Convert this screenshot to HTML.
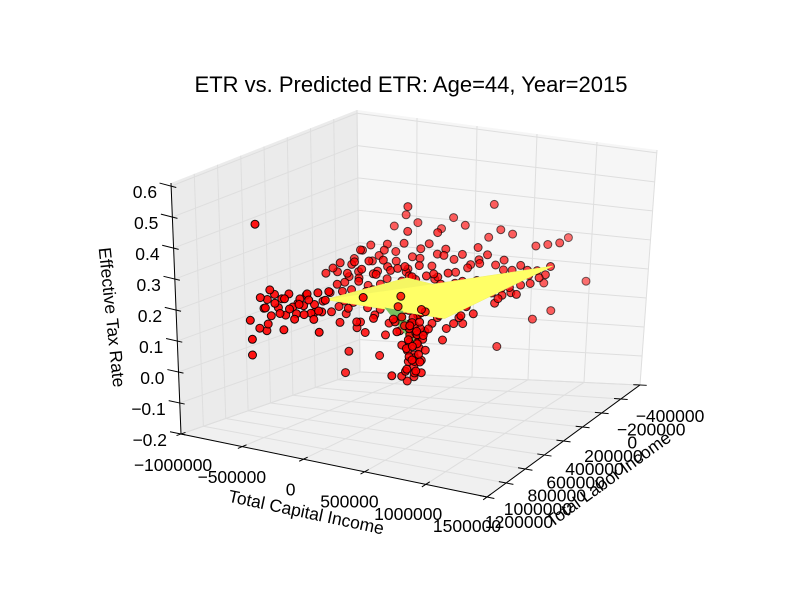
<!DOCTYPE html>
<html><head><meta charset="utf-8">
<style>
html,body{margin:0;padding:0;background:#fff;}
svg{display:block;font-family:"Liberation Sans",sans-serif;}
</style></head>
<body>
<svg id="chart" width="800" height="600" viewBox="0 0 800 600" xmlns="http://www.w3.org/2000/svg">
<rect width="800" height="600" fill="#fff"/>
<text x="411" y="92" font-size="22" text-anchor="middle" fill="#000">ETR vs. Predicted ETR: Age=44, Year=2015</text>
<g id="panes"></g>
<g id="grid"></g>
<g id="axes"></g>
<g id="backPts"></g>
<g id="surf"></g>
<g id="frontPts"></g>
<text x="0" y="0" font-size="17.5" text-anchor="middle" transform="translate(305,518) rotate(12)">Total Capital Income</text>
<text x="0" y="0" font-size="17.5" text-anchor="middle" transform="translate(612,484) rotate(-36)">Total Labor Income</text>
<text x="0" y="0" font-size="17.5" text-anchor="middle" transform="translate(106,318) rotate(84)">Effective Tax Rate</text>
</svg>
<script>
// ---- axis ticks ----
const capTicks = [-1000, -500, 0, 500, 1000, 1500];
const capTickLabels = ["\u22121000000", "\u2212500000", "0", "500000", "1000000", "1500000"];
const labTicks = [-400, -200, 0, 200, 400, 600, 800, 1000, 1200];
const labTickLabels = ["\u2212400000", "\u2212200000", "0", "200000", "400000", "600000", "800000", "1000000", "1200000"];
const etrTicks = [-0.2, -0.1, 0.0, 0.1, 0.2, 0.3, 0.4, 0.5, 0.6];
const etrTickLabels = ["\u22120.2", "\u22120.1", "0.0", "0.1", "0.2", "0.3", "0.4", "0.5", "0.6"];

// ---- observed data, grouped (capital income $000, labor income $000, ETR) ----
const wingACap = [-920,-890,-860,-830,-800,-770,-740,-710,-680,-650,-620,-590,-560,-530,-500,-470,-440,-410,-380,-900];
const wingALab = [520,520,520,520,520,520,520,520,520,520,520,520,520,520,520,520,520,520,520,520];
const wingAEtr = [.12,.15,.1,.17,.13,.16,.11,.18,.14,.12,.17,.15,.19,.13,.16,.2,.14,.18,.21,.05];

const wingBCap = [-910,-870,-830,-790,-750,-710,-670,-630,-590,-550,-510,-470,-430,-850,-720];
const wingBLab = [560,560,560,560,560,560,560,560,560,560,560,560,560,560,560];
const wingBEtr = [.16,.13,.19,.15,.12,.17,.14,.11,.16,.13,.18,.12,.15,.08,.07];

const bandACap = [-700,-640,-580,-520,-460,-400,-340,-280,-220,-160,-100,-40,20,80,140,200,260,320,380,440,500,560,620,680,740];
const bandALab = [200,200,200,200,200,200,200,200,200,200,200,200,200,200,200,200,200,200,200,200,200,200,200,200,200];
const bandAEtr = [.2,.22,.24,.21,.25,.23,.26,.22,.27,.24,.25,.26,.23,.27,.24,.25,.22,.26,.23,.24,.21,.25,.22,.23,.2];

const bandBCap = [-650,-580,-510,-440,-370,-300,-230,-160,-90,-20,50,120,190,260,330,400,470,540,610,680,750,820,890,960,1000];
const bandBLab = [0,0,0,0,0,0,0,0,0,0,0,0,0,0,0,0,0,0,0,0,0,0,0,0,0];
const bandBEtr = [.22,.25,.27,.24,.28,.26,.29,.25,.28,.3,.27,.29,.26,.28,.25,.27,.29,.26,.28,.25,.27,.24,.26,.25,.28];

const bandCCap = [-500,-440,-380,-320,-260,-200,-140,-80,-20,40,100,160,220,280,340,400,460,520,-470,-350,-230,-110,10,130,250,370];
const bandCLab = [300,300,300,300,300,300,300,300,300,300,300,300,300,300,300,300,300,300,300,300,300,300,300,300,300,300];
const bandCEtr = [.12,.1,.14,.08,.13,.11,.15,.09,.12,.14,.1,.13,.08,.11,.14,.1,.12,.15,.17,.06,.16,.05,.07,.03,.09,.06];

const bandDCap = [-600,-520,-440,-360,-280,-200,-120,-40,40,120,200,280,360,440,520,600,680,760,840,920];
const bandDLab = [100,100,100,100,100,100,100,100,100,100,100,100,100,100,100,100,100,100,100,100];
const bandDEtr = [.18,.2,.16,.21,.19,.17,.22,.2,.18,.21,.19,.16,.2,.18,.22,.19,.21,.2,.23,.24];

const bandECap = [-750,-680,-610,-540,-470,-400,-330,-260,-190,-120];
const bandELab = [400,400,400,400,400,400,400,400,400,400];
const bandEEtr = [.13,.16,.11,.15,.12,.09,.14,.1,.07,.12];

const bandFCap = [-650,-590,-530,-470,-410,-350,-290,-230,-170,-110,-50,10,70,130,190,250,310,370,430,490,550,610,670,730,790,850];
const bandFLab = [150,150,150,150,150,150,150,150,150,150,150,150,150,150,150,150,150,150,150,150,150,150,150,150,150,150];
const bandFEtr = [.2,.17,.23,.19,.15,.21,.18,.24,.16,.2,.22,.17,.14,.19,.23,.16,.2,.18,.15,.21,.19,.22,.17,.2,.23,.21];

const bandGCap = [-620,-560,-500,-440,-380,-320,-260,-200,-140,-80,-20,40,100,160,220,280,340,400,460,520,580];
const bandGLab = [250,250,250,250,250,250,250,250,250,250,250,250,250,250,250,250,250,250,250,250,250];
const bandGEtr = [.15,.18,.13,.17,.2,.14,.18,.12,.16,.19,.15,.13,.17,.2,.14,.12,.18,.16,.13,.17,.15];

const bandHCap = [-550,-450,-350,-250,-150,-50,50,150,250,350,450,550,650,750,850,950];
const bandHLab = [50,50,50,50,50,50,50,50,50,50,50,50,50,50,50,50];
const bandHEtr = [.26,.23,.27,.24,.22,.26,.24,.28,.23,.25,.27,.22,.26,.24,.27,.25];

const backCap = [-500,-300,-100,100,300,500,700,900,-400,0,400,800];
const backLab = [-200,-200,-200,-200,-200,-200,-200,-200,-200,-200,-200,-200];
const backEtr = [.3,.32,.31,.33,.3,.32,.29,.31,.34,.35,.33,.3];

const spikeCapPts = [120,150,100,180,130,160,110,190,140,170,120,200,90,150,180,130,210,100,160,140,220,80,190,60,240,40,260,120,200,90];
const spikeLabPts = [350,320,380,350,300,400,330,360,310,390,350,330,370,300,400,340,360,310,380,330,350,360,300,400,320,350,380,450,450,450];
const spikeEtrPts = [-.08,-.07,-.06,-.05,-.04,-.03,-.02,-.01,0,.01,.02,.03,.04,.05,.06,.07,.08,.09,.1,.11,.12,.13,.14,.12,.15,.16,.17,.1,.05,.14];

const spikeBCap = [60,90,120,150,180,210,240,270,300,70,110,150,190,230,270,80,130,180,230,280,100,160,220,260,140,200,250,120,180,240];
const spikeBLab = [250,280,300,320,340,360,380,400,420,440,260,290,310,330,350,370,390,410,430,450,270,300,330,360,390,420,450,250,350,400];
const spikeBEtr = [.18,.15,.12,.1,.08,.05,.02,0,-.03,-.05,.16,.13,.09,.06,.03,.2,.11,.07,.01,-.02,.14,.04,-.01,.08,-.04,.12,.06,.17,0,.1];

const outCap = [-950,-900,-930,-960,-900,340,-200,-200,50,390,850,780,570,450,780,970,800,-420,-450,-390,-160,-25];
const outLab = [600,650,550,600,600,-200,0,0,0,0,-200,-100,0,200,-200,-400,-400,300,300,600,300,600];
const outEtr = [-.02,.04,.06,.09,.4,.41,.41,.33,.34,.31,.08,.07,-.01,.1,.17,.14,.28,-.02,-.09,.09,-.02,.23];

const ptCap = [].concat(wingACap,wingBCap,bandACap,bandBCap,bandCCap,bandDCap,bandECap,bandFCap,bandGCap,bandHCap,backCap,spikeCapPts,spikeBCap,outCap);
const ptLab = [].concat(wingALab,wingBLab,bandALab,bandBLab,bandCLab,bandDLab,bandELab,bandFLab,bandGLab,bandHLab,backLab,spikeLabPts,spikeBLab,outLab);
const ptEtr = [].concat(wingAEtr,wingBEtr,bandAEtr,bandBEtr,bandCEtr,bandDEtr,bandEEtr,bandFEtr,bandGEtr,bandHEtr,backEtr,spikeEtrPts,spikeBEtr,outEtr);

// predicted surface vertices
const surfCap = [-340, -390, 13, 850, 643];
const surfLab = [600, -200, 0, -200, 600];
const surfEtr = [0.2, 0.14, 0.17, 0.23, 0.21];
const spikeCap = [150, 300, 220];
const spikeLab = [600, 600, 350];
const spikeEtr = [0.21, 0.21, 0.02];

// ---- projection ----
const cMin=-1000,cMax=1500,lMin=-400,lMax=1200,zMin=-0.2,zMax=0.61;
const A=[181,434],B=[487,497],C=[640,385],D=[360,372];
const A2=[171,183],B2=[492,268],C2=[657,150],D2=[357,110];
function bil(P,Q,R,S,u,v){return [P[0]*(1-u)*(1-v)+Q[0]*u*(1-v)+S[0]*(1-u)*v+R[0]*u*v, P[1]*(1-u)*(1-v)+Q[1]*u*(1-v)+S[1]*(1-u)*v+R[1]*u*v];}
function proj(c,l,z){
  const u=(c-cMin)/(cMax-cMin), v=(lMax-l)/(lMax-lMin), w=(z-zMin)/(zMax-zMin);
  const b=bil(A,B,C,D,u,v), t=bil(A2,B2,C2,D2,u,v);
  return [b[0]+(t[0]-b[0])*w, b[1]+(t[1]-b[1])*w];
}
const NS="http://www.w3.org/2000/svg";
function mk(tag,attrs,parent){const e=document.createElementNS(NS,tag);for(const k in attrs)e.setAttribute(k,attrs[k]);parent.appendChild(e);return e;}
function pts(arr){return arr.map(p=>p[0].toFixed(1)+","+p[1].toFixed(1)).join(" ");}

// panes
const panes=document.getElementById('panes');
let e;
e=mk('polygon',{points:pts([proj(cMin,lMax,zMin),proj(cMin,lMin,zMin),proj(cMin,lMin,zMax),proj(cMin,lMax,zMax)]),fill:'#ebebeb'},panes);

e=mk('polygon',{points:pts([proj(cMin,lMin,zMin),proj(cMax,lMin,zMin),proj(cMax,lMin,zMax),proj(cMin,lMin,zMax)]),fill:'#f6f6f6'},panes);

e=mk('polygon',{points:pts([proj(cMin,lMax,zMin),proj(cMax,lMax,zMin),proj(cMax,lMin,zMin),proj(cMin,lMin,zMin)]),fill:'#f0f0f0'},panes);


// gridlines
const grid=document.getElementById('grid');
function gl(p,q,name){const g=mk('line',{x1:p[0],y1:p[1],x2:q[0],y2:q[1],stroke:'#dedede','stroke-width':1},grid);}
capTicks.forEach(c=>{gl(proj(c,lMax,zMin),proj(c,lMin,zMin),'x-grid-floor');gl(proj(c,lMin,zMin),proj(c,lMin,zMax),'x-grid-back');});
labTicks.forEach(l=>{gl(proj(cMin,l,zMin),proj(cMax,l,zMin),'y-grid-floor');gl(proj(cMin,l,zMin),proj(cMin,l,zMax),'y-grid-left');});
etrTicks.forEach(z=>{gl(proj(cMin,lMax,z),proj(cMin,lMin,z),'z-grid-left');gl(proj(cMin,lMin,z),proj(cMax,lMin,z),'z-grid-back');});

// axes
const axes=document.getElementById('axes');
function al(p,q,name){const g=mk('line',{x1:p[0],y1:p[1],x2:q[0],y2:q[1],stroke:'#000','stroke-width':1},axes);}
al(proj(cMin,lMax,zMin),proj(cMax,lMax,zMin),'x-axis-line');
al(proj(cMax,lMax,zMin),proj(cMax,lMin,zMin),'y-axis-line');
al(proj(cMin,lMax,zMin),proj(cMin,lMax,zMax),'z-axis-line');
function tl(x,y,s,anchor,name){const t=mk('text',{x:x,y:y,'font-size':17.5,'text-anchor':anchor,fill:'#000'},axes);t.textContent=s;}
capTicks.forEach((c,i)=>{
  al(proj(c,lMax-40,zMin),proj(c,lMax+40,zMin),'x-tick');
  const p=proj(c,lMax,zMin);const u=(c-cMin)/(cMax-cMin);
  tl(p[0]-8-12*u,p[1]+37-2*u,capTickLabels[i],'middle','x-tick-label');
});
labTicks.forEach((l,i)=>{
  al(proj(cMax-60,l,zMin),proj(cMax+60,l,zMin),'y-tick');
  const p=proj(cMax,l,zMin);const v=(lMax-l)/(lMax-lMin);
  tl(p[0]+32-2*v,p[1]+31+6*v,labTickLabels[i],'middle','y-tick-label');
});
etrTicks.forEach((z,i)=>{
  al(proj(cMin-90,lMax,z),proj(cMin+40,lMax,z),'z-tick');
  const p=proj(cMin,lMax,z);
  tl(p[0]-14,p[1]+12,etrTickLabels[i],'end','z-tick-label');
});

// scatter
const backG=document.getElementById('backPts'),frontG=document.getElementById('frontPts');
const order=ptCap.map((_,i)=>i).sort((a,b)=>ptLab[a]-ptLab[b]);
order.forEach(i=>{
  const p=proj(ptCap[i],ptLab[i],ptEtr[i]);
  const v=(lMax-ptLab[i])/(lMax-lMin);
  const a=Math.max(0.45,Math.min(1,1.15-0.6*v));
  const g=ptLab[i]>300?frontG:backG;
  const c=mk('circle',{cx:p[0].toFixed(1),cy:p[1].toFixed(1),r:4,fill:'#ff0000','fill-opacity':a,stroke:'#000','stroke-opacity':a,'stroke-width':1},g);
  
  
});

// surface
const surfG=document.getElementById('surf');
const sp=surfCap.map((c,i)=>proj(c,surfLab[i],surfEtr[i]));
e=mk('polygon',{points:pts(sp),fill:'#ffff66',stroke:'#f0f060','stroke-width':0.5},surfG);

e=mk('polygon',{points:pts([sp[0],sp[1],sp[2]]),fill:'#eef060','fill-opacity':0.6},surfG);

const kp=spikeCap.map((c,i)=>proj(c,spikeLab[i],spikeEtr[i]));
e=mk('polygon',{points:pts(kp),fill:'#77c060'},surfG);

</script>
</body></html>
